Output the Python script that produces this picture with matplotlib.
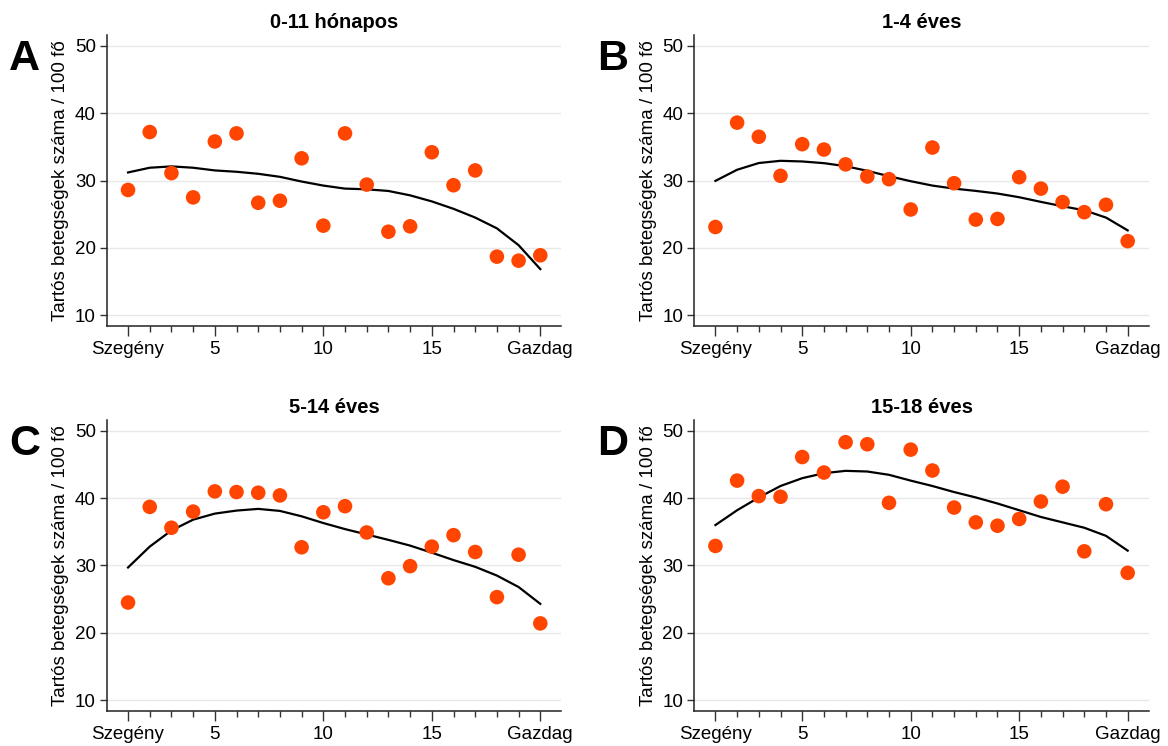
import matplotlib
matplotlib.use("Agg")
import matplotlib.pyplot as plt
from matplotlib.ticker import FixedLocator

plt.rcParams['font.family'] = ['Liberation Sans', 'DejaVu Sans']

# Income groups (1 = poorest ... 20 = richest)
groups = list(range(1, 21))
tick_positions = [1, 5, 10, 15, 20]
tick_labels = ["Szegény", "5", "10", "15", "Gazdag"]

titles = ["0-11 hónapos", "1-4 éves", "5-14 éves", "15-18 éves"]
letters = ["A", "B", "C", "D"]
ylabel = "Tartós betegségek száma / 100 fő"

# Observed rates per group
obs_a = [28.6, 37.2, 31.1, 27.5, 35.8, 37.0, 26.7, 27.0, 33.3, 23.3,
         37.0, 29.4, 22.4, 23.2, 34.2, 29.3, 31.5, 18.7, 18.1, 18.9]
obs_b = [23.1, 38.6, 36.5, 30.7, 35.4, 34.6, 32.4, 30.6, 30.2, 25.7,
         34.9, 29.6, 24.2, 24.3, 30.5, 28.8, 26.8, 25.3, 26.4, 21.0]
obs_c = [24.5, 38.7, 35.6, 38.0, 41.0, 40.9, 40.8, 40.4, 32.7, 37.9,
         38.8, 34.9, 28.1, 29.9, 32.8, 34.5, 32.0, 25.3, 31.6, 21.4]
obs_d = [32.9, 42.6, 40.3, 40.2, 46.1, 43.8, 48.3, 48.0, 39.3, 47.2,
         44.1, 38.6, 36.4, 35.9, 36.9, 39.5, 41.7, 32.1, 39.1, 28.9]

# Smoothed trend per group
fit_a = [31.2, 31.9, 32.1, 31.9, 31.5, 31.3, 31.0, 30.55, 29.85, 29.25,
         28.8, 28.7, 28.45, 27.8, 26.9, 25.8, 24.5, 22.9, 20.4, 16.85]
fit_b = [29.95, 31.6, 32.6, 32.93, 32.83, 32.58, 32.13, 31.44, 30.64, 29.9,
         29.25, 28.8, 28.46, 28.07, 27.52, 26.83, 26.18, 25.58, 24.5, 22.6]
fit_c = [29.7, 32.8, 35.2, 36.8, 37.7, 38.15, 38.4, 38.1, 37.3, 36.3,
         35.4, 34.6, 33.8, 32.95, 31.9, 30.8, 29.8, 28.5, 26.8, 24.3]
fit_d = [36.0, 38.2, 40.1, 41.8, 42.96, 43.7, 44.05, 43.95, 43.46, 42.6,
         41.8, 40.9, 40.1, 39.2, 38.2, 37.2, 36.4, 35.6, 34.4, 32.2]

observed = [obs_a, obs_b, obs_c, obs_d]
fitted = [fit_a, fit_b, fit_c, fit_d]

fig = plt.figure(figsize=(11.68, 7.46), dpi=100)

# [left, bottom, width, height] in figure fractions
positions = [
    [0.0916, 0.563, 0.389, 0.390],
    [0.5945, 0.563, 0.389, 0.390],
    [0.0916, 0.047, 0.389, 0.390],
    [0.5945, 0.047, 0.389, 0.390],
]

for pos, title, letter, obs, fit in zip(positions, titles, letters, observed, fitted):
    ax = fig.add_axes(pos)
    ax.set_xlim(0.03, 20.97)
    ax.set_ylim(8.4, 51.6)
    ax.set_yticks([10, 20, 30, 40, 50])
    ax.grid(axis='y', color='#e8e8e8', linewidth=1.0)
    ax.set_axisbelow(True)
    ax.plot(groups, fit, color='black', linewidth=1.6, zorder=3)
    ax.scatter(groups, obs, s=110, color='#ff4500', edgecolors='none', zorder=4)

    ax.set_xticks(tick_positions)
    ax.set_xticklabels(tick_labels)
    ax.xaxis.set_minor_locator(FixedLocator(groups))
    ax.tick_params(axis='x', which='major', length=7, width=1, labelsize=13.5, pad=4, color='#333333')
    ax.tick_params(axis='x', which='minor', length=4.5, width=1, color='#333333')
    ax.tick_params(axis='y', which='major', length=5, width=1, labelsize=13.5, pad=3, color='#333333')

    for side in ('top', 'right'):
        ax.spines[side].set_visible(False)
    for side in ('left', 'bottom'):
        ax.spines[side].set_color('#222222')
        ax.spines[side].set_linewidth(1.1)

    ax.set_ylabel(ylabel, fontsize=13.5, labelpad=4)
    ax.set_title(title, fontsize=14.5, fontweight='bold', pad=5)
    ax.text(-0.215, 0.918, letter, transform=ax.transAxes, fontsize=31,
            fontweight='bold', ha='left', va='center')

fig.savefig("out.png", dpi=100)
